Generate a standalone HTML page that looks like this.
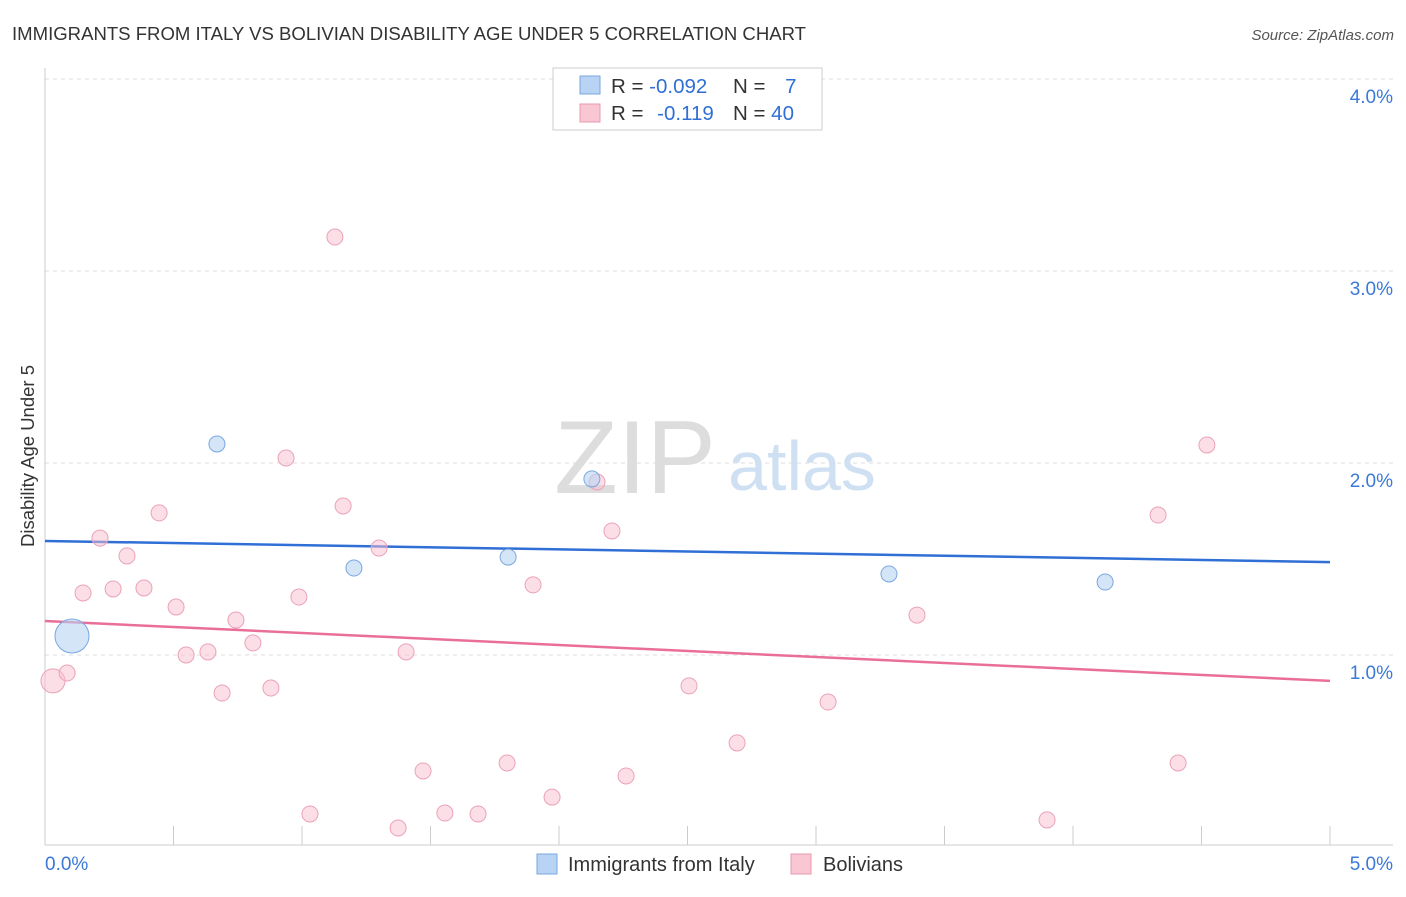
<!DOCTYPE html>
<html><head><meta charset="utf-8"><style>
body{margin:0;background:#fff;font-family:"Liberation Sans",sans-serif}
svg text{font-family:"Liberation Sans",sans-serif}
</style></head><body>
<svg width="1406" height="892" viewBox="0 0 1406 892">
<text x="12" y="40" font-size="18" fill="#333" textLength="794" lengthAdjust="spacingAndGlyphs">IMMIGRANTS FROM ITALY VS BOLIVIAN DISABILITY AGE UNDER 5 CORRELATION CHART</text>
<text x="1394" y="40" font-size="15" fill="#555" font-style="italic" text-anchor="end">Source: ZipAtlas.com</text>
<g id="grid"></g>
<g id="axes"></g>
<text x="635" y="493" font-size="104" fill="#ddd" font-family="Liberation Serif" text-anchor="middle">ZIP</text>
<text x="802" y="490" font-size="70" fill="#cfe0f3" text-anchor="middle">atlas</text>
<g id="trend"></g>
<g id="pts"></g>
<text x="34" y="456" font-size="18.5" fill="#333" text-anchor="middle" transform="rotate(-90 34 456)">Disability Age Under 5</text>
<g>
<rect x="553" y="68" width="269" height="62" fill="#fff" stroke="#ccc"/>
<rect x="580" y="76" width="20" height="18" fill="#b8d3f3" stroke="#7aa7e0"/>
<rect x="580" y="104" width="20" height="18" fill="#f9c6d4" stroke="#e89ab0"/>
<text x="611" y="93" font-size="20.5" fill="#333">R = <tspan fill="#2f6fd6">-0.092</tspan></text>
<text x="733" y="93" font-size="20.5" fill="#333">N = <tspan fill="#2f6fd6" dx="14">7</tspan></text>
<text x="611" y="120" font-size="20.5" fill="#333">R = <tspan fill="#2f6fd6" dx="8">-0.119</tspan></text>
<text x="733" y="120" font-size="20.5" fill="#333">N = <tspan fill="#2f6fd6">40</tspan></text>
</g>
<g>
<rect x="537" y="854" width="20" height="20" fill="#b8d3f3" stroke="#7aa7e0"/>
<text x="568" y="871" font-size="20" fill="#333">Immigrants from Italy</text>
<rect x="791" y="854" width="20" height="20" fill="#f9c6d4" stroke="#e89ab0"/>
<text x="823" y="871" font-size="20" fill="#333">Bolivians</text>
</g>
</svg>
<script>
const yTicks=[1,2,3,4];
const yTickLabels=["1.0%","2.0%","3.0%","4.0%"];
const xTickLabels=["0.0%","5.0%"];
const blueX=[0.105,0.669,1.202,1.802,2.128,3.284,4.125];
const blueY=[1.099,2.099,1.453,1.510,1.917,1.422,1.380];
const blueR=[17,8,8,8,8,8,8];
const pinkX=[0.031,0.086,0.148,0.214,0.265,0.319,0.385,0.444,0.510,0.549,0.634,0.689,0.743,0.809,0.879,0.938,0.988,1.031,1.128,1.160,1.300,1.374,1.405,1.471,1.556,1.685,1.798,1.899,1.973,2.148,2.206,2.261,2.506,2.693,3.047,3.393,3.899,4.331,4.409,4.521];
const pinkY=[0.865,0.906,1.323,1.609,1.344,1.516,1.349,1.740,1.250,1.0,1.016,0.802,1.182,1.063,0.828,2.026,1.302,0.172,3.177,1.776,1.557,0.099,1.016,0.396,0.177,0.172,0.4375,1.365,0.260,1.901,1.646,0.370,0.839,0.542,0.755,1.208,0.141,1.729,0.4375,2.094];
const blueTrend=[1.594,1.484];
const pinkTrend=[1.177,0.865];
const NS="http://www.w3.org/2000/svg";
const X=v=>45+v*257, Y=v=>847-v*192;
function mk(t,a,p){const e=document.createElementNS(NS,t);for(const k in a)e.setAttribute(k,a[k]);p.appendChild(e);return e;}
const grid=document.getElementById('grid'),axes=document.getElementById('axes');
yTicks.forEach((t,i)=>{
 const l=mk('line',{x1:45,x2:1393,y1:Y(t),y2:Y(t),stroke:'#ddd','stroke-dasharray':'4,4'},grid);
 
 
 const tx=mk('text',{x:1393,y:Y(t)+24,'font-size':19,fill:'#3b78d8','text-anchor':'end'},axes);
 tx.textContent=yTickLabels[i];
 
 
});
mk('line',{x1:45,x2:45,y1:68,y2:845,stroke:'#ccc'},axes);
mk('line',{x1:45,x2:1393,y1:845,y2:845,stroke:'#ccc'},axes);
for(let i=1;i<=10;i++){const x=X(i*0.5);mk('line',{x1:x,x2:x,y1:826,y2:845,stroke:'#ccc'},axes);}
[[0,69,'start'],[5,1393,'end']].forEach((d,i)=>{
 const tx=mk('text',{x:d[1]-(i?0:24),y:870,'font-size':19,fill:'#3b78d8','text-anchor':d[2]},axes);
 tx.textContent=xTickLabels[i];
 
 
});
const tr=document.getElementById('trend');
const bl=mk('line',{x1:X(0),x2:X(5),y1:Y(blueTrend[0]),y2:Y(blueTrend[1]),stroke:'#2f6fd6','stroke-width':2.5},tr);


const pl=mk('line',{x1:X(0),x2:X(5),y1:Y(pinkTrend[0]),y2:Y(pinkTrend[1]),stroke:'#e96f98','stroke-width':2.5},tr);


const pts=document.getElementById('pts');
pinkX.forEach((x,i)=>{
 const c=mk('circle',{cx:X(x),cy:Y(pinkY[i]),r:i==0?12:8,fill:'rgba(249,190,208,0.5)',stroke:'#eba2b8'},pts);
 
 
});
blueX.forEach((x,i)=>{
 const c=mk('circle',{cx:X(x),cy:Y(blueY[i]),r:blueR[i],fill:'rgba(184,211,243,0.6)',stroke:'#7aa7e0'},pts);
 
 
});
</script>
</body></html>
